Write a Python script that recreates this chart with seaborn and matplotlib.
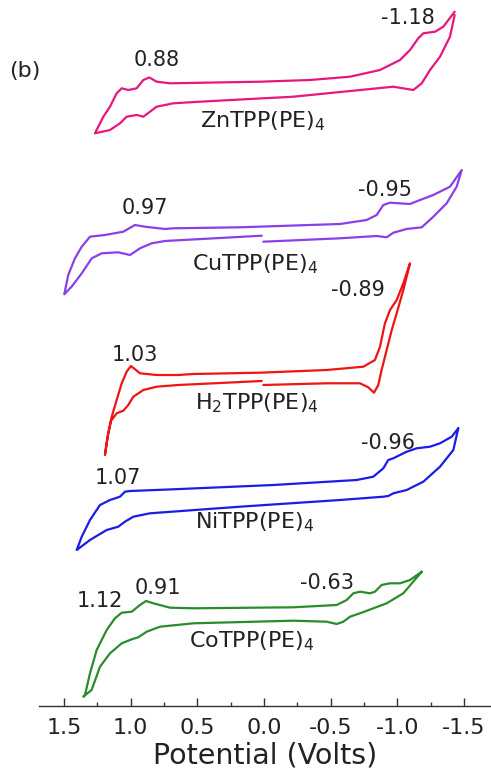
import numpy as np
import pandas as pd
import matplotlib
matplotlib.use("Agg")
import matplotlib.pyplot as plt
from matplotlib.ticker import MultipleLocator
import seaborn as sns

# ---------------- data ----------------
compounds = ["ZnTPP(PE)$_4$", "CuTPP(PE)$_4$", "H$_2$TPP(PE)$_4$", "NiTPP(PE)$_4$", "CoTPP(PE)$_4$"]
offsets = [620, 475, 330, 215, 95]
colors = ["#E8177D", "#8A3FE8", "#F01414", "#1C1CE8", "#2B8C2B"]

zn_potential = [-1.43, -1.345, -1.283, -1.195, -1.157, -1.095, -1.02, -0.87, -0.645, -0.345, 0.03, 0.705, 0.805,
                0.86, 0.905, 0.955, 1.018, 1.067, 1.105, 1.155, 1.205, 1.268, 1.155, 1.08, 1.03, 0.955, 0.905,
                0.855, 0.805, 0.68, 0.48, 0.105, -0.22, -0.97, -1.12, -1.183, -1.245, -1.32, -1.395, -1.43]
zn_current = [74.3, 59.3, 54.3, 52.7, 47.7, 36, 26, 16, 9.3, 6, 4.3, 2.7, 4.3,
              8.5, 6, -2.3, -4, -2.3, -7.3, -20.7, -30.7, -47.3, -44, -37.3, -30.7, -29, -30.7,
              -25.7, -20.7, -17.3, -15.7, -13, -10.7, -0.7, -4, 2.7, 16, 29.3, 49.3, 71]

cu_potential = [0.005, -0.57, -0.845, -0.92, -0.97, -1.07, -1.183, -1.27, -1.37, -1.445, -1.483, -1.395, -1.27,
                -1.17, -1.095, -0.945, -0.895, -0.845, -0.77, -0.57, 0.18, 0.68, 0.743, 0.893, 0.968, 1.055,
                1.193, 1.305, 1.367, 1.418, 1.468, 1.498, 1.443, 1.367, 1.292, 1.217, 1.093, 1.005, 0.93,
                0.842, 0.743, 0.017]
cu_current = [-10.7, -7.3, -5, -6.3, -1.7, 2, 3.7, 14.3, 27.7, 44.3, 61, 44.3, 36,
              31, 27, 28.3, 26, 16, 11, 7, 3.7, 2.7, 2, 4.3, 6, -0.7,
              -4, -5.7, -15.7, -27.3, -44, -63.3, -55.7, -42.3, -27.3, -22.3, -21.3, -24, -17.3,
              -12.3, -10, -4.7]

h2_potential = [0.005, -0.47, -0.72, -0.782, -0.825, -0.857, -0.882, -0.92, -0.958, -0.995, -1.045, -1.095,
                -1.045, -0.995, -0.945, -0.907, -0.87, -0.832, -0.745, -0.47, 0.03, 0.53, 0.643, 0.805, 0.93,
                0.998, 1.03, 1.067, 1.105, 1.142, 1.168, 1.193, 1.175, 1.148, 1.105, 1.055, 1.018, 0.98, 0.905,
                0.805, 0.643, 0.017]
h2_current = [-9, -7.3, -7.3, -11.3, -16.7, -9, 6, 26, 46, 62.7, 86, 112.7,
              92.7, 76, 66, 52.7, 29.3, 16, 9.3, 6, 3.3, 2, 1, 1, 2.7,
              10, 4.3, -7.3, -24, -40.7, -57.3, -79, -62, -45, -37.3, -34.7, -29, -20.7, -14,
              -10.7, -9, -5]

ni_potential = [-1.457, -1.408, -1.32, -1.245, -1.145, -1.07, -0.97, -0.932, -0.895, -0.82, -0.695, -0.07, 0.68,
                1.005, 1.043, 1.08, 1.155, 1.23, 1.305, 1.367, 1.405, 1.305, 1.18, 1.093, 1.043, 0.98, 0.855,
                0.18, -0.57, -0.895, -0.932, -0.97, -1.07, -1.145, -1.195, -1.32, -1.42, -1.457]
ni_current = [62.7, 54.3, 47.7, 44.3, 42.7, 39.3, 32.7, 31, 22.7, 14.3, 11, 6, 1.7,
              0, -0.7, -5.7, -9, -14, -29, -45.7, -59, -49, -39, -35.7, -30.7, -25.7, -22.3,
              -15.7, -9, -5.7, -5, -2.3, 1, 6, 9.3, 24.3, 41, 62.7]

co_potential = [-1.183, -1.095, -1.02, -0.945, -0.882, -0.832, -0.795, -0.72, -0.67, -0.62, -0.545, -0.22,
                0.53, 0.705, 0.83, 0.885, 0.93, 0.992, 1.067, 1.118, 1.18, 1.255, 1.305, 1.343, 1.355, 1.293,
                1.23, 1.155, 1.067, 0.992, 0.943, 0.88, 0.78, 0.53, -0.22, -0.47, -0.545, -0.595, -0.645,
                -0.72, -0.82, -0.92, -1.045, -1.183]
co_current = [39.3, 31, 27.7, 27.7, 26, 19.3, 17.7, 19.3, 17.7, 11, 6, 3.7,
              2.7, 3.3, 7.7, 10, 6, -0.7, -1.7, -7.3, -19, -39, -62.3, -84, -85.7, -79,
              -55.7, -42.3, -32.3, -28.3, -26.3, -20.7, -15.7, -12.3, -9.7, -10.7, -13, -10.7, -5.7,
              -2.3, 2.7, 7.7, 17.7, 39.3]

xticks = [1.5, 1.0, 0.5, 0.0, -0.5, -1.0, -1.5]
xticklabels = ["1.5", "1.0", "0.5", "0.0", "-0.5", "-1.0", "-1.5"]

# ---------------- build table ----------------
series = [(zn_potential, zn_current), (cu_potential, cu_current), (h2_potential, h2_current),
          (ni_potential, ni_current), (co_potential, co_current)]
frames = []
for name, off, (pot, cur) in zip(compounds, offsets, series):
    frames.append(pd.DataFrame({"potential": pot,
                                "current": np.asarray(cur, dtype=float) + off,
                                "compound": name}))
df = pd.concat(frames, ignore_index=True)

# ---------------- style ----------------
sns.set_style("ticks")
plt.rcParams["font.family"] = ["DejaVu Sans"]
plt.rcParams["mathtext.fontset"] = "dejavusans"
plt.rcParams["lines.solid_joinstyle"] = "round"
plt.rcParams["lines.solid_capstyle"] = "round"

fig = plt.figure(figsize=(4.91, 7.74), dpi=100)
ax = fig.add_axes([39 / 491, 68 / 774, 452 / 491, 706 / 774])

sns.lineplot(data=df, x="potential", y="current", hue="compound", palette=dict(zip(compounds, colors)),
             sort=False, estimator=None, units="compound", linewidth=1.6, legend=False, ax=ax)
for ln in ax.get_lines():
    ln.set_solid_joinstyle("round")
    ln.set_solid_capstyle("round")

ax.set_xlim(1.6875, -1.7025)
ax.set_ylim(0, 706)

for s in ["left", "right", "top"]:
    ax.spines[s].set_visible(False)
ax.spines["bottom"].set_color("#333333")
ax.spines["bottom"].set_linewidth(1.0)
ax.set_yticks([])
ax.set_ylabel("")
ax.set_xticks(xticks)
ax.set_xticklabels(xticklabels, fontsize=16, color="#222222")
ax.xaxis.set_minor_locator(MultipleLocator(0.25))
ax.tick_params(axis="x", which="major", direction="in", length=5.5, width=1.0, pad=9, colors="#333333",
               labelcolor="#222222")
ax.tick_params(axis="x", which="minor", direction="in", length=3, width=1.0, colors="#333333")
ax.set_xlabel("Potential (Volts)", fontsize=20.5, labelpad=2, color="#222222")

# ---------------- annotations ----------------
tc = "#222222"
num_fs = 15
name_fs = 16
ax.text(0.805, 645.5, "0.88", fontsize=num_fs, ha="center", va="center", color=tc)
ax.text(-1.082, 687.7, "-1.18", fontsize=num_fs, ha="center", va="center", color=tc)
ax.text(0.005, 585, compounds[0], fontsize=name_fs, ha="center", va="center", color=tc)

ax.text(0.893, 497.7, "0.97", fontsize=num_fs, ha="center", va="center", color=tc)
ax.text(-0.907, 516, "-0.95", fontsize=num_fs, ha="center", va="center", color=tc)
ax.text(0.07, 442, compounds[1], fontsize=name_fs, ha="center", va="center", color=tc)

ax.text(-0.707, 416, "-0.89", fontsize=num_fs, ha="center", va="center", color=tc)
ax.text(0.968, 351, "1.03", fontsize=num_fs, ha="center", va="center", color=tc)
ax.text(0.055, 303, compounds[2], fontsize=name_fs, ha="center", va="center", color=tc)

ax.text(-0.932, 262.7, "-0.96", fontsize=num_fs, ha="center", va="center", color=tc)
ax.text(1.093, 227.7, "1.07", fontsize=num_fs, ha="center", va="center", color=tc)
ax.text(0.07, 184, compounds[3], fontsize=name_fs, ha="center", va="center", color=tc)

ax.text(1.23, 105.3, "1.12", fontsize=num_fs, ha="center", va="center", color=tc)
ax.text(0.797, 117.7, "0.91", fontsize=num_fs, ha="center", va="center", color=tc)
ax.text(-0.47, 122.7, "-0.63", fontsize=num_fs, ha="center", va="center", color=tc)
ax.text(0.092, 64.5, compounds[4], fontsize=name_fs, ha="center", va="center", color=tc)

fig.text(25 / 491, 1 - 71 / 774, "(b)", fontsize=16, ha="center", va="center", color=tc)

fig.savefig("out.png", dpi=100)
